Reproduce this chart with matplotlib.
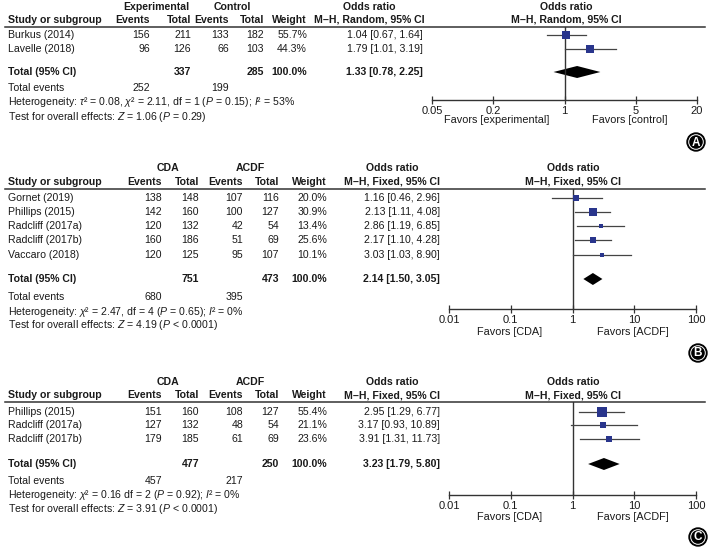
import numpy as np
import matplotlib
matplotlib.use("Agg")
import matplotlib.pyplot as plt
from matplotlib.patches import Circle
from matplotlib.ticker import NullLocator

plt.rcParams['font.family'] = ['Liberation Sans', 'DejaVu Sans']
plt.rcParams['mathtext.fontset'] = 'custom'
plt.rcParams['mathtext.rm'] = 'Liberation Sans'
plt.rcParams['mathtext.it'] = 'Liberation Sans:italic'
plt.rcParams['mathtext.bf'] = 'Liberation Sans:bold'

# ---- panel A data ----
groupsA = ["Experimental", "Control"]
studiesA = ["Burkus (2014)", "Lavelle (2018)"]
ev1A = [156, 96]
tot1A = [211, 126]
ev2A = [133, 66]
tot2A = [182, 103]
weightA = [55.7, 44.3]
orA = [1.04, 1.79]
loA = [0.67, 1.01]
hiA = [1.64, 3.19]
totalA = [1.33, 0.78, 2.25]
totNA = [337, 285]
totEvA = [252, 199]
hetA = r"Heterogeneity: $\tau$² = 0.08, $\chi$² = 2.11, df = 1 ($P$ = 0.15); $I$² = 53%"
testA = r"Test for overall effects: $Z$ = 1.06 ($P$ = 0.29)"
methodA = "M\u2013H, Random, 95% CI"
ticksA = [0.05, 0.2, 1, 5, 20]
favorsA = ["Favors [experimental]", "Favors [control]"]

# ---- panel B data ----
groupsB = ["CDA", "ACDF"]
studiesB = ["Gornet (2019)", "Phillips (2015)", "Radcliff (2017a)", "Radcliff (2017b)", "Vaccaro (2018)"]
ev1B = [138, 142, 120, 160, 120]
tot1B = [148, 160, 132, 186, 125]
ev2B = [107, 100, 42, 51, 95]
tot2B = [116, 127, 54, 69, 107]
weightB = [20.0, 30.9, 13.4, 25.6, 10.1]
orB = [1.16, 2.13, 2.86, 2.17, 3.03]
loB = [0.46, 1.11, 1.19, 1.10, 1.03]
hiB = [2.96, 4.08, 6.85, 4.28, 8.90]
totalB = [2.14, 1.50, 3.05]
totNB = [751, 473]
totEvB = [680, 395]
hetB = r"Heterogeneity: $\chi$² = 2.47, df = 4 ($P$ = 0.65); $I$² = 0%"
testB = r"Test for overall effects: $Z$ = 4.19 ($P$ < 0.0001)"
methodB = "M\u2013H, Fixed, 95% CI"
ticksB = [0.01, 0.1, 1, 10, 100]
favorsB = ["Favors [CDA]", "Favors [ACDF]"]

# ---- panel C data ----
groupsC = ["CDA", "ACDF"]
studiesC = ["Phillips (2015)", "Radcliff (2017a)", "Radcliff (2017b)"]
ev1C = [151, 127, 179]
tot1C = [160, 132, 185]
ev2C = [108, 48, 61]
tot2C = [127, 54, 69]
weightC = [55.4, 21.1, 23.6]
orC = [2.95, 3.17, 3.91]
loC = [1.29, 0.93, 1.31]
hiC = [6.77, 10.89, 11.73]
totalC = [3.23, 1.79, 5.80]
totNC = [477, 250]
totEvC = [457, 217]
hetC = r"Heterogeneity: $\chi$² = 0.16 df = 2 ($P$ = 0.92); $I$² = 0%"
testC = r"Test for overall effects: $Z$ = 3.91 ($P$ < 0.0001)"
methodC = "M\u2013H, Fixed, 95% CI"
ticksC = [0.01, 0.1, 1, 10, 100]
favorsC = ["Favors [CDA]", "Favors [ACDF]"]

W, H = 709, 548
TXT = '#1a1a1a'
BLUE = '#29358c'
FS = 7.6

fig = plt.figure(figsize=(W / 100, H / 100), dpi=100)
bg = fig.add_axes([0, 0, 1, 1])
bg.set_xlim(0, W)
bg.set_ylim(H, 0)
bg.axis('off')


def t(x, y, s, ha='left', bold=False, size=FS):
    bg.text(x, y, s, ha=ha, va='center', fontsize=size, color=TXT,
            fontweight='bold' if bold else 'normal')


def drawPanel(d, lay):
    # column headings
    c = lay['cols']
    t(lay['g1x'], lay['hy'][0], d['groups'][0], 'center', True)
    t(lay['g2x'], lay['hy'][0], d['groups'][1], 'center', True)
    t(lay['orHx'], lay['hy'][0], "Odds ratio", 'center', True)
    t(lay['fcx'], lay['hy'][0], "Odds ratio", 'center', True)
    t(8, lay['hy'][1], "Study or subgroup", bold=True)
    for x, s in zip(c, ["Events", "Total", "Events", "Total", "Weight"]):
        t(x, lay['hy'][1], s, 'right', True)
    t(lay['orHx'], lay['hy'][1], d['method'], 'center', True)
    t(lay['fcx'], lay['hy'][1], d['method'], 'center', True)
    bg.plot([5, 705], [lay['lineY'], lay['lineY']], color='#333333', lw=1.1)

    # study rows
    for i, y in enumerate(lay['rows']):
        t(8, y, d['studies'][i])
        t(c[0], y, str(d['ev1'][i]), 'right')
        t(c[1], y, str(d['tot1'][i]), 'right')
        t(c[2], y, str(d['ev2'][i]), 'right')
        t(c[3], y, str(d['tot2'][i]), 'right')
        t(c[4], y, "%.1f%%" % d['weight'][i], 'right')
        t(lay['orX'], y, "%.2f [%.2f, %.2f]" % (d['or'][i], d['lo'][i], d['hi'][i]), 'right')

    ty = lay['totY']
    t(8, ty, "Total (95% CI)", bold=True)
    t(c[1], ty, str(d['totN'][0]), 'right', True)
    t(c[3], ty, str(d['totN'][1]), 'right', True)
    t(c[4], ty, "100.0%", 'right', True)
    t(lay['orX'], ty, "%.2f [%.2f, %.2f]" % tuple(d['total']), 'right', True)
    t(8, lay['evY'], "Total events")
    t(c[0], lay['evY'], str(d['totEv'][0]), 'right')
    t(c[2], lay['evY'], str(d['totEv'][1]), 'right')
    t(8, lay['hetY'], d['het'])
    t(8, lay['testY'], d['test'])

    # forest plot
    x0, x1 = lay['fx']
    top, bot = lay['lineY'], lay['axisY']
    fx = fig.add_axes([x0 / W, 1 - bot / H, (x1 - x0) / W, (bot - top) / H])
    fx.set_xscale('log')
    fx.set_xlim(d['ticks'][0], d['ticks'][-1])
    fx.set_ylim(bot, top)
    fx.patch.set_alpha(0)
    for s in ['top', 'right', 'left']:
        fx.spines[s].set_visible(False)
    fx.spines['bottom'].set_color('#333333')
    fx.spines['bottom'].set_linewidth(1.0)
    fx.set_yticks([])
    fx.set_xticks(d['ticks'])
    fx.set_xticklabels(["{:g}".format(v) for v in d['ticks']])
    fx.xaxis.set_minor_locator(NullLocator())
    fx.tick_params(axis='x', direction='inout', length=6, width=0.9, pad=1.5,
                   labelsize=8, colors='#333333', labelcolor=TXT)
    fx.axvline(1, color='#333333', lw=1.0)
    for i, y in enumerate(lay['rows']):
        fx.plot([d['lo'][i], d['hi'][i]], [y, y], color='#444444', lw=0.9, clip_on=False)
        side = lay['k'] * np.sqrt(d['weight'][i])
        fx.plot(d['or'][i], y, 's', color=BLUE, ms=side * 0.72, mew=0, clip_on=False)
    est, lo, hi = d['total']
    fx.fill([lo, est, hi, est], [ty, ty - 6, ty, ty + 6], color='black', lw=0, clip_on=False)

    t(lay['fav'][0], lay['favY'], d['favors'][0], 'center', size=7.8)
    t(lay['fav'][1], lay['favY'], d['favors'][1], 'center', size=7.8)

    # panel letter
    cx, cy = lay['badge']
    bg.add_patch(Circle((cx, cy), 9, color='black'))
    bg.add_patch(Circle((cx, cy), 7.3, fill=False, ec='white', lw=0.7))
    bg.text(cx, cy + 0.5, lay['letter'], ha='center', va='center', color='white',
            fontsize=8.5, fontweight='bold')


dataA = dict(groups=groupsA, studies=studiesA, ev1=ev1A, tot1=tot1A, ev2=ev2A, tot2=tot2A,
             weight=weightA, lo=loA, hi=hiA, total=totalA, totN=totNA, totEv=totEvA,
             het=hetA, test=testA, method=methodA, ticks=ticksA, favors=favorsA)
dataA['or'] = orA
dataB = dict(groups=groupsB, studies=studiesB, ev1=ev1B, tot1=tot1B, ev2=ev2B, tot2=tot2B,
             weight=weightB, lo=loB, hi=hiB, total=totalB, totN=totNB, totEv=totEvB,
             het=hetB, test=testB, method=methodB, ticks=ticksB, favors=favorsB)
dataB['or'] = orB
dataC = dict(groups=groupsC, studies=studiesC, ev1=ev1C, tot1=tot1C, ev2=ev2C, tot2=tot2C,
             weight=weightC, lo=loC, hi=hiC, total=totalC, totN=totNC, totEv=totEvC,
             het=hetC, test=testC, method=methodC, ticks=ticksC, favors=favorsC)
dataC['or'] = orC

layA = dict(cols=[150, 191, 229, 264, 307], g1x=156, g2x=232, orHx=369, orX=423, fcx=566,
            hy=[7, 20], lineY=27, rows=[35, 49], totY=72, evY=88, hetY=102, testY=117,
            fx=[432, 697], axisY=100, favY=120, fav=[497, 630], k=1.07,
            badge=[696, 142], letter='A')
layB = dict(cols=[162, 199, 243, 279, 327], g1x=168, g2x=250, orHx=392, orX=440, fcx=573,
            hy=[168, 182], lineY=189, rows=[198, 212, 226, 240, 255], totY=279, evY=297,
            hetY=312, testY=325, fx=[449, 696], axisY=309, favY=332, fav=[510, 633], k=1.26,
            badge=[698, 353], letter='B')
layC = dict(cols=[162, 199, 243, 279, 327], g1x=168, g2x=250, orHx=392, orX=440, fcx=573,
            hy=[382, 395], lineY=402, rows=[412, 425, 439], totY=464, evY=481,
            hetY=495, testY=509, fx=[449, 696], axisY=495, favY=517, fav=[510, 633], k=1.34,
            badge=[698, 537], letter='C')

drawPanel(dataA, layA)
drawPanel(dataB, layB)
drawPanel(dataC, layC)

fig.savefig("out.png", dpi=100)
